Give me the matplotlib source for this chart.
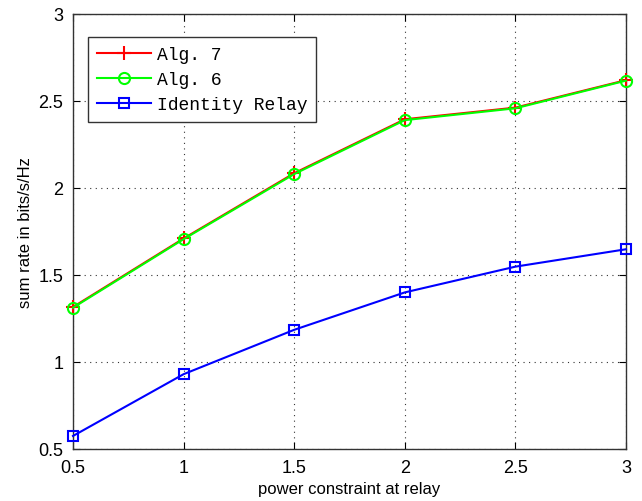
import matplotlib
matplotlib.use("Agg")
import matplotlib.pyplot as plt

power = [0.5, 1.0, 1.5, 2.0, 2.5, 3.0]
alg7 = [1.316, 1.71, 2.085, 2.395, 2.462, 2.62]
alg6 = [1.312, 1.706, 2.08, 2.39, 2.458, 2.617]
identity = [0.575, 0.93, 1.185, 1.40, 1.548, 1.648]
xticks = [0.5, 1, 1.5, 2, 2.5, 3]
xticklabels = ["0.5", "1", "1.5", "2", "2.5", "3"]
yticks = [0.5, 1, 1.5, 2, 2.5, 3]
yticklabels = ["0.5", "1", "1.5", "2", "2.5", "3"]

plt.rcParams['font.family'] = ['Liberation Sans', 'DejaVu Sans']
fig = plt.figure(figsize=(6.42, 5.02), dpi=100)
ax = fig.add_axes([73/642, 1-450/502, (626-73)/642, (450-15)/502])

ax.plot(power, alg7, color='#ff0000', marker='+', markersize=10, markeredgewidth=1.5, linewidth=1.5, label='Alg. 7', clip_on=False, zorder=3)
ax.plot(power, alg6, color='#00ff00', marker='o', markersize=8, markerfacecolor='none', markeredgewidth=1.5, linewidth=1.5, label='Alg. 6', clip_on=False, zorder=3)
ax.plot(power, identity, color='#0000ff', marker='s', markersize=7, markerfacecolor='none', markeredgewidth=1.5, linewidth=1.5, label='Identity Relay', clip_on=False, zorder=3)

ax.set_xlim(0.5, 3)
ax.set_ylim(0.5, 3)
ax.set_xticks(xticks)
ax.set_xticklabels(xticklabels)
ax.set_yticks(yticks)
ax.set_yticklabels(yticklabels)
ax.tick_params(direction='in', labelsize=13, length=5, top=True, right=True, pad=7)
ax.grid(True, linestyle=(0, (1, 4)), color='#333333', linewidth=0.8)
for s in ax.spines.values():
    s.set_color('#333333')
    s.set_linewidth(1.0)

ax.set_xlabel('power constraint at relay', fontsize=12, labelpad=4)
ax.set_ylabel('sum rate in bits/s/Hz', fontsize=12, labelpad=4)

leg = ax.legend(loc='upper left', bbox_to_anchor=(15/553, 1-23/435), borderaxespad=0,
                prop={'family': 'Liberation Mono', 'size': 13},
                fancybox=False, edgecolor='#333333', framealpha=1, handlelength=3,
                handletextpad=0.3, borderpad=0.5, labelspacing=0.45)
leg.get_frame().set_linewidth(1.0)

fig.savefig('out.png', dpi=100)
